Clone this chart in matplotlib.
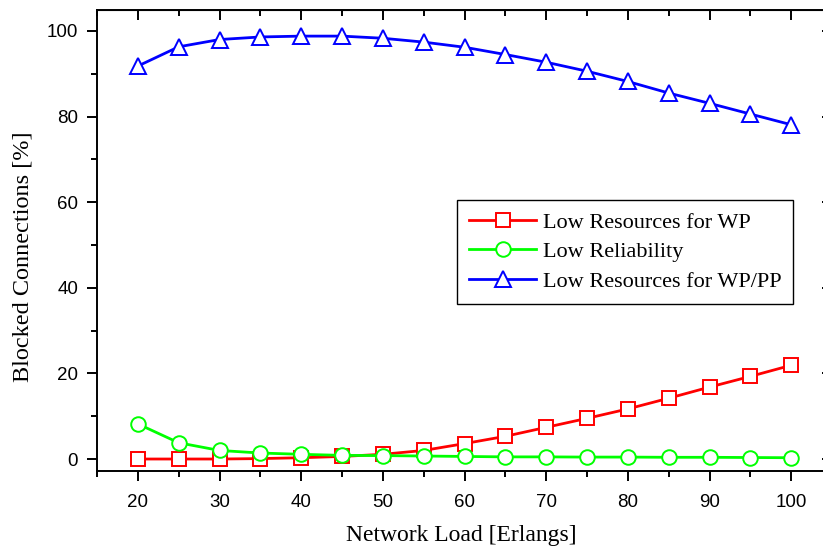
import numpy as np
import matplotlib.pyplot as plt
from matplotlib.ticker import MultipleLocator

load = [20, 25, 30, 35, 40, 45, 50, 55, 60, 65, 70, 75, 80, 85, 90, 95, 100]
low_res_wp = [0.0, 0.0, 0.0, 0.1, 0.3, 0.6, 1.1, 2.0, 3.6, 5.3, 7.4, 9.5,
              11.7, 14.2, 16.8, 19.3, 21.9]
low_rel = [8.2, 3.8, 2.0, 1.4, 1.1, 0.85, 0.8, 0.7, 0.6, 0.5, 0.5, 0.45,
           0.45, 0.4, 0.4, 0.35, 0.3]
low_res_wppp = [91.8, 96.3, 98.0, 98.6, 98.8, 98.8, 98.3, 97.4, 96.2, 94.5,
                92.7, 90.6, 88.2, 85.5, 83.1, 80.6, 78.1]

series_labels = ["Low Resources for WP", "Low Reliability", "Low Resources for WP/PP"]

serif = "Liberation Serif"
sans = "Liberation Sans"

fig = plt.figure(figsize=(8.23, 5.46), dpi=100)
W, H = 823, 546
ax = fig.add_axes([97 / W, (H - 471) / H, (832 - 97) / W, (471 - 10) / H])

lw = 2.0
ax.plot(load, low_res_wp, color="#ff0000", lw=lw, marker="s", ms=10,
        mfc="white", mec="#ff0000", mew=1.4, label=series_labels[0])
ax.plot(load, low_rel, color="#00ff00", lw=lw, marker="o", ms=10.5,
        mfc="white", mec="#00ff00", mew=1.4, label=series_labels[1])
ax.plot(load, low_res_wppp, color="#0000ff", lw=lw, marker="^", ms=11.5,
        mfc="white", mec="#0000ff", mew=1.4, label=series_labels[2])

ax.set_xlim(15, 105)
ax.set_ylim(-2.8, 104.9)
ax.xaxis.set_major_locator(MultipleLocator(10))
ax.xaxis.set_minor_locator(MultipleLocator(5))
ax.yaxis.set_major_locator(MultipleLocator(20))
ax.yaxis.set_minor_locator(MultipleLocator(10))

for s in ax.spines.values():
    s.set_linewidth(1.4)

ax.tick_params(which="major", direction="out", length=7.5, width=1.4,
               labelsize=13.5)
ax.tick_params(axis="x", which="major", pad=9)
ax.tick_params(axis="y", which="major", pad=6)
ax.tick_params(which="minor", direction="out", length=4, width=1.4)
for t in ax.get_xticklabels() + ax.get_yticklabels():
    t.set_fontfamily(sans)

top = ax.secondary_xaxis("top")
top.xaxis.set_major_locator(MultipleLocator(10))
top.xaxis.set_minor_locator(MultipleLocator(5))
top.tick_params(which="major", direction="in", length=7.5, width=1.4, labeltop=False)
top.tick_params(which="minor", direction="in", length=4, width=1.4)
right = ax.secondary_yaxis("right")
right.yaxis.set_major_locator(MultipleLocator(20))
right.yaxis.set_minor_locator(MultipleLocator(10))
right.tick_params(which="major", direction="in", length=7.5, width=1.4, labelright=False)
right.tick_params(which="minor", direction="in", length=4, width=1.4)

ax.set_xlabel("Network Load [Erlangs]", fontfamily=serif, fontsize=17)
ax.set_ylabel("Blocked Connections [%]", fontfamily=serif, fontsize=17.5)
# label centres (pixels -> axes fractions)
ax.xaxis.set_label_coords((461 - 97) / 735, (471 - 545.5) / 461, transform=ax.transAxes)
ax.xaxis.label.set_va("bottom")
ax.yaxis.set_label_coords((23 - 97) / 735, (471 - 257) / 461, transform=ax.transAxes)
ax.yaxis.label.set_va("center")

leg = ax.legend(loc="upper left", bbox_to_anchor=(457 / W, (H - 200) / H),
                bbox_transform=fig.transFigure, borderaxespad=0,
                prop={"family": serif, "size": 16}, fancybox=False,
                edgecolor="black", framealpha=1, handlelength=3.0,
                handletextpad=0.3, labelspacing=0.4, borderpad=0.55)
leg.get_frame().set_linewidth(1.0)

fig.savefig("out.png", dpi=100)
